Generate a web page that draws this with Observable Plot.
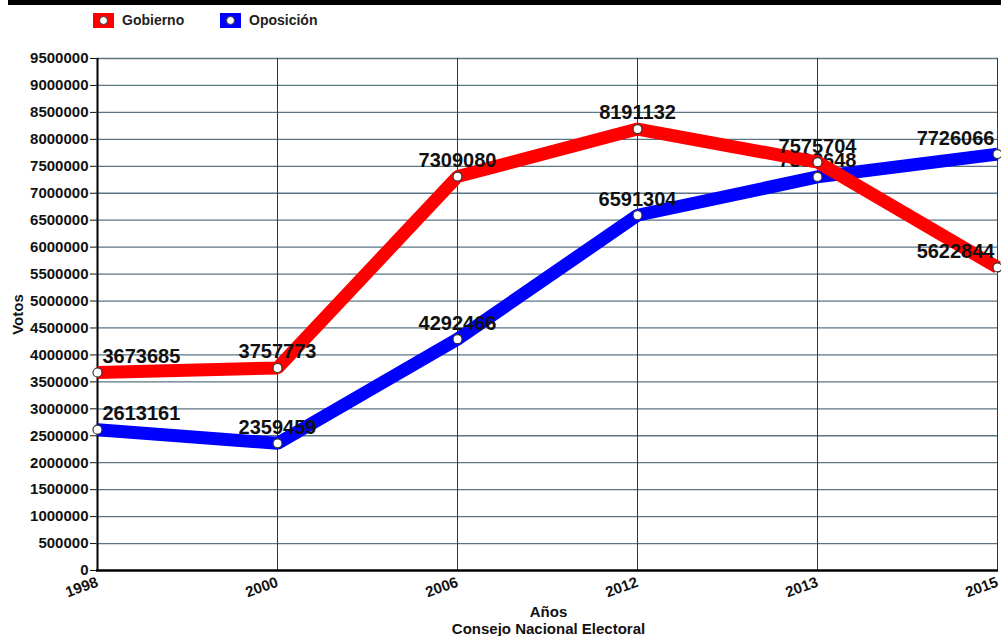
<!DOCTYPE html>
<html>
<head>
<meta charset="utf-8">
<script src="https://cdn.jsdelivr.net/npm/d3@7"></script>
<script src="https://cdn.jsdelivr.net/npm/@observablehq/plot@0.6"></script>
<style>
  body { margin: 0; background: #fff; font-family: "Liberation Sans", Arial, sans-serif; }
  #wrap { position: relative; width: 1001px; height: 636px; overflow: hidden; }
  #bar { position: absolute; left: 8px; top: 0; width: 993px; height: 5px; background: #000; }
  #legend { position: absolute; left: 0; top: 0; width: 1001px; height: 40px; }
  .item { position: absolute; top: 12px; display: flex; align-items: center; font-weight: bold; font-size: 14px; color: #222; }
  .sw { width: 21px; height: 15px; position: relative; margin-right: 8px; }
  .sw::after { content: ""; position: absolute; left: 6px; top: 3px; width: 7px; height: 7px; border-radius: 50%; background: #fff; border: 1px solid #333; }
  #chart { position: absolute; left: 0; top: 40px; }
  #chart g[aria-label$="tick label"], #chart g[aria-label$="tick label"] text { font-size: 15px !important; }
  #caption { position: absolute; left: 48px; top: 603px; width: 1001px; text-align: center; font-weight: bold; font-size: 15px; color: #111; line-height: 17px; }
</style>
</head>
<body>
<div id="wrap">
  <div id="bar"></div>
  <div id="legend"></div>
  <div id="chart"></div>
  <div id="caption"></div>
</div>
<script>
const years = ["1998", "2000", "2006", "2012", "2013", "2015"];
const gobierno = [3673685, 3757773, 7309080, 8191132, 7575704, 5622844];
const oposicion = [2613161, 2359459, 4292466, 6591304, 7302648, 7726066];
const seriesNames = ["Gobierno", "Oposición"];
const seriesColors = ["#ff0000", "#0000ff"];
const yTicks = d3.range(0, 9500001, 500000);
const xLabel = "Años";
const source = "Consejo Nacional Electoral";
const yLabel = "Votos";

const gob = years.map((y, i) => ({year: y, value: gobierno[i], i}));
const opo = years.map((y, i) => ({year: y, value: oposicion[i], i}));
const last = years.length - 1;

// legend
const legend = document.getElementById("legend");
const legendX = [93, 220];
seriesNames.forEach((name, k) => {
  const it = document.createElement("div");
  it.className = "item";
  it.style.left = legendX[k] + "px";
  const sw = document.createElement("div");
  sw.className = "sw";
  sw.style.background = seriesColors[k];
  it.appendChild(sw);
  it.appendChild(document.createTextNode(name));
  legend.appendChild(it);
});

const cap = document.getElementById("caption");
cap.innerHTML = `<div>${xLabel}</div><div>${source}</div>`;

const labelStyle = {fontSize: 20, fontWeight: "bold", fill: "#111", dy: -16};
function labels(data) {
  return [
    Plot.text(data.filter(d => d.i === 0), {x: "year", y: "value", text: d => String(d.value), textAnchor: "start", dx: 5, ...labelStyle}),
    Plot.text(data.filter(d => d.i > 0 && d.i < last), {x: "year", y: "value", text: d => String(d.value), textAnchor: "middle", ...labelStyle}),
    Plot.text(data.filter(d => d.i === last), {x: "year", y: "value", text: d => String(d.value), textAnchor: "end", dx: -3, ...labelStyle})
  ];
}
const dots = (data) => Plot.dot(data, {x: "year", y: "value", r: 4.5, fill: "#fff", stroke: "#333", strokeWidth: 1.2});

const chart = Plot.plot({
  width: 1001,
  height: 562,
  marginTop: 18,
  marginBottom: 32,
  marginLeft: 96,
  marginRight: 3,
  style: {fontFamily: "'Liberation Sans', Arial, sans-serif", fontSize: "15px", fontWeight: "bold", color: "#111", overflow: "visible"},
  x: {type: "point", domain: years, padding: 0},
  y: {domain: [0, 9500000]},
  marks: [
    Plot.ruleY(yTicks.slice(1), {stroke: "#5b7585", strokeWidth: 1.3}),
    Plot.ruleX(years, {stroke: "#1f3b5a", strokeWidth: 1}),
    Plot.axisY({ticks: yTicks, tickFormat: d => String(d), label: yLabel, labelAnchor: "center", labelArrow: "none", labelOffset: 84, tickSize: 6, tickPadding: 2, fontSize: 15}),
    Plot.axisX({label: null, tickRotate: -20, tickSize: 0, tickPadding: 11, fontSize: 15}),
    Plot.ruleX([years[0]], {stroke: "#000", strokeWidth: 2}),
    Plot.ruleY([0], {stroke: "#000", strokeWidth: 2.5}),
    Plot.line(opo, {x: "year", y: "value", stroke: seriesColors[1], strokeWidth: 13, strokeLinecap: "butt", strokeLinejoin: "miter"}),
    dots(opo),
    ...labels(opo),
    Plot.line(gob, {x: "year", y: "value", stroke: seriesColors[0], strokeWidth: 13, strokeLinecap: "butt", strokeLinejoin: "miter"}),
    dots(gob),
    ...labels(gob)
  ]
});
document.getElementById("chart").appendChild(chart);
</script>
</body>
</html>
